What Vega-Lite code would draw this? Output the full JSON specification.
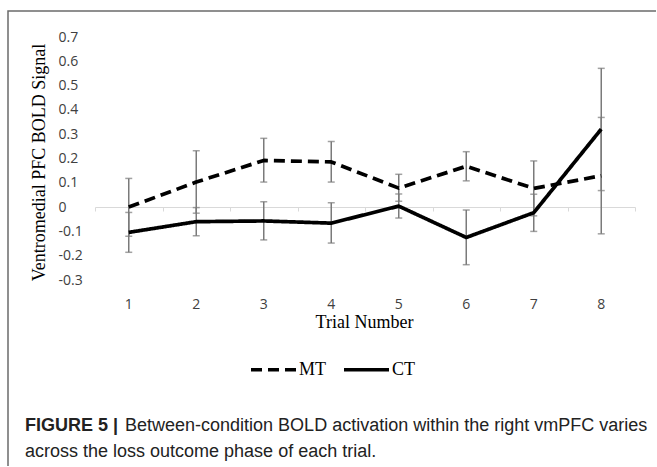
{
  "$schema": "https://vega.github.io/schema/vega-lite/v6.json",
  "width": 650,
  "height": 457,
  "autosize": {"type": "none"},
  "padding": {"left": 8, "top": 11, "right": -2, "bottom": -2},
  "background": "white",
  "config": {
    "view": {"stroke": "#6b6b6b", "strokeWidth": 1.5}
  },
  "title": {
    "text": "FIGURE 5 |",
    "subtitle": [
      "\u200b\u00a0\u00a0\u00a0\u00a0\u00a0\u00a0\u00a0\u00a0\u00a0\u00a0\u00a0\u00a0\u00a0\u00a0\u00a0\u00a0\u00a0\u00a0\u00a0\u00a0Between-condition BOLD activation within the right vmPFC varies",
      "across the loss outcome phase of each trial."
    ],
    "orient": "bottom",
    "anchor": "start",
    "frame": "group",
    "offset": -51,
    "dx": 17,
    "font": "Liberation Sans",
    "fontSize": 18,
    "fontWeight": "bold",
    "color": "#222222",
    "subtitleFont": "Liberation Sans",
    "subtitleFontSize": 18,
    "subtitleFontWeight": "normal",
    "subtitleColor": "#222222",
    "subtitlePadding": -18,
    "subtitleLineHeight": 26
  },
  "data": {
    "values": [
      {"trial": 1, "series": "MT", "mean": 0.0, "lo": -0.12, "hi": 0.118},
      {"trial": 2, "series": "MT", "mean": 0.103, "lo": -0.025, "hi": 0.232},
      {"trial": 3, "series": "MT", "mean": 0.192, "lo": 0.103, "hi": 0.283},
      {"trial": 4, "series": "MT", "mean": 0.186, "lo": 0.103, "hi": 0.27},
      {"trial": 5, "series": "MT", "mean": 0.078, "lo": 0.024, "hi": 0.135},
      {"trial": 6, "series": "MT", "mean": 0.168, "lo": 0.108, "hi": 0.228},
      {"trial": 7, "series": "MT", "mean": 0.077, "lo": -0.036, "hi": 0.19},
      {"trial": 8, "series": "MT", "mean": 0.129, "lo": -0.11, "hi": 0.369},
      {"trial": 1, "series": "CT", "mean": -0.104, "lo": -0.186, "hi": -0.022},
      {"trial": 2, "series": "CT", "mean": -0.06, "lo": -0.118, "hi": -0.002},
      {"trial": 3, "series": "CT", "mean": -0.057, "lo": -0.135, "hi": 0.022},
      {"trial": 4, "series": "CT", "mean": -0.066, "lo": -0.148, "hi": 0.018},
      {"trial": 5, "series": "CT", "mean": 0.004, "lo": -0.045, "hi": 0.054},
      {"trial": 6, "series": "CT", "mean": -0.125, "lo": -0.237, "hi": -0.012},
      {"trial": 7, "series": "CT", "mean": -0.023, "lo": -0.1, "hi": 0.053},
      {"trial": 8, "series": "CT", "mean": 0.321, "lo": 0.068, "hi": 0.571}
    ]
  },
  "layer": [
    {
      "mark": {"type": "rule", "color": "#7a7a7a", "strokeWidth": 1.5},
      "encoding": {
        "x": {
          "field": "trial",
          "type": "ordinal",
          "scale": {"type": "band", "domain": [1, 2, 3, 4, 5, 6, 7, 8], "range": [87, 627], "paddingInner": 0, "paddingOuter": 0},
          "axis": {
            "orient": "bottom",
            "offset": -261,
            "labels": false,
            "title": null,
            "domain": true,
            "domainColor": "#d9d9d9",
            "domainWidth": 1,
            "ticks": true,
            "tickBand": "extent",
            "tickColor": "#d9d9d9",
            "tickSize": 4,
            "grid": false
          }
        },
        "y": {
          "field": "lo",
          "type": "quantitative",
          "scale": {"domain": [-0.3, 0.7], "range": [269, 26], "nice": false, "zero": false},
          "axis": null
        },
        "y2": {"field": "hi"}
      }
    },
    {
      "mark": {"type": "tick", "color": "#7a7a7a", "thickness": 1.5, "size": 7},
      "encoding": {
        "x": {"field": "trial", "type": "ordinal", "axis": null},
        "y": {"field": "lo", "type": "quantitative", "axis": null}
      }
    },
    {
      "mark": {"type": "tick", "color": "#7a7a7a", "thickness": 1.5, "size": 7},
      "encoding": {
        "x": {"field": "trial", "type": "ordinal", "axis": null},
        "y": {"field": "hi", "type": "quantitative", "axis": null}
      }
    },
    {
      "mark": {"type": "line", "color": "black", "strokeWidth": 3.7, "strokeJoin": "round"},
      "encoding": {
        "x": {
          "field": "trial",
          "type": "ordinal",
          "axis": {
            "orient": "bottom",
            "offset": -188,
            "domain": false,
            "ticks": false,
            "grid": false,
            "labelAngle": 0,
            "labelFont": "Open Sans",
            "labelFontSize": 14,
            "labelColor": "#404040",
            "labelBaseline": "alphabetic",
            "labelPadding": 28,
            "title": "Trial Number",
            "titleFont": "Liberation Serif",
            "titleFontSize": 18,
            "titleFontWeight": "normal",
            "titleColor": "black",
            "titleBaseline": "alphabetic",
            "titleAlign": "center",
            "titleX": 356,
            "titleY": 47
          }
        },
        "y": {
          "field": "mean",
          "type": "quantitative",
          "axis": {
            "orient": "left",
            "domain": false,
            "ticks": false,
            "grid": false,
            "values": [-0.3, -0.2, -0.1, 0, 0.1, 0.2, 0.3, 0.4, 0.5, 0.6, 0.7],
            "labelExpr": "datum.value == 0 ? '0' : (datum.value < 0 ? '-' : '') + format(abs(datum.value), '.1f')",
            "labelAlign": "left",
            "labelPadding": -50,
            "labelFont": "Open Sans",
            "labelFontSize": 14,
            "labelColor": "#404040",
            "title": "Ventromedial PFC BOLD Signal",
            "titleFont": "Liberation Serif",
            "titleFontSize": 18,
            "titleFontWeight": "normal",
            "titleColor": "black",
            "titleAngle": 270,
            "titleBaseline": "alphabetic",
            "titleAlign": "center",
            "titleX": 36,
            "titleY": 151
          }
        },
        "strokeDash": {
          "field": "series",
          "type": "nominal",
          "scale": {"domain": ["MT", "CT"], "range": [[11, 6], [1, 0]]},
          "legend": {
            "title": null,
            "orient": "none",
            "legendX": 241,
            "legendY": 334,
            "direction": "horizontal",
            "symbolType": "stroke",
            "symbolSize": 2025,
            "symbolStrokeWidth": 3.5,
            "symbolStrokeColor": "black",
            "labelFont": "Liberation Serif",
            "labelFontSize": 18,
            "labelColor": "black",
            "labelOffset": 1,
            "columnPadding": 11,
            "padding": 0
          }
        }
      }
    }
  ],
  "resolve": {"axis": {"x": "independent", "y": "independent"}}
}
